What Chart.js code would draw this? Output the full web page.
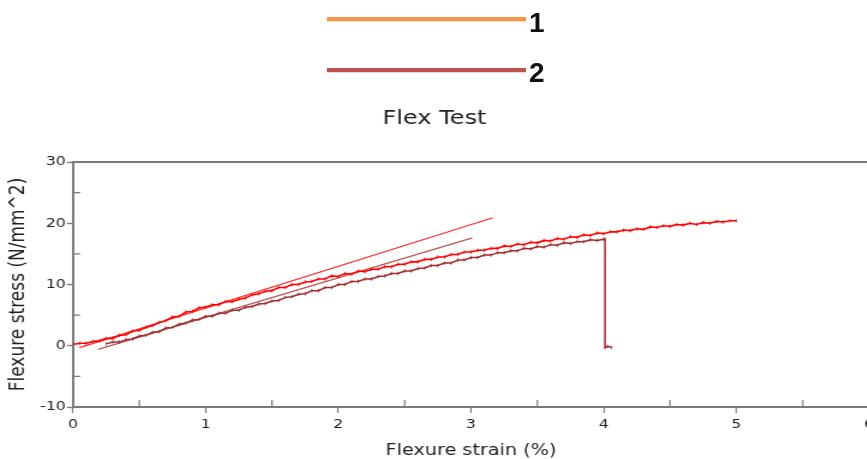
<!DOCTYPE html>
<html>
<head>
<meta charset="utf-8">
<script src="https://cdn.jsdelivr.net/npm/chart.js@4.4.0/dist/chart.umd.min.js"></script>
<style>
  html, body { margin: 0; padding: 0; background: #fff; overflow: hidden; width: 867px; height: 459px; }
  /* the source picture is stretched sideways, so the canvas is too */
  #wrap { position: absolute; left: 0; top: 0; width: 733px; height: 459px; transform: scaleX(1.2); transform-origin: 0 0; }
  .key { position: absolute; height: 4px; width: 199px; left: 327px; box-shadow: 0 1px 1px rgba(0,0,0,0.15); }
  .keytxt { position: absolute; left: 529px; font: bold 28px "Liberation Sans", Arial, sans-serif; line-height: 28px; color: #111; }
</style>
</head>
<body>
<div id="wrap">
  <canvas id="flexChart" width="733" height="459"></canvas>
</div>
<div class="key" style="top:17px;background:#F79646"></div>
<div class="keytxt" style="top:9px">1</div>
<div class="key" style="top:68px;background:#C0504D"></div>
<div class="keytxt" style="top:59px">2</div>
<script>
// specimen 1: strain 0 .. 5 %, one reading every 0.05 %
var strain1Start = 0, strainStep = 0.05;
var stress1 = [
  0.2, 0.4, 0.4, 0.7, 0.8, 1.2, 1.2, 1.7, 1.8, 2.4,
  2.5, 3.0, 3.3, 3.8, 4.1, 4.7, 4.8, 5.5, 5.6, 6.2,
  6.3, 6.7, 6.7, 7.2, 7.2, 7.6, 7.8, 8.3, 8.5, 8.9,
  9.0, 9.5, 9.5, 10.0, 10.0, 10.4, 10.5, 10.9, 10.9, 11.4,
  11.3, 11.8, 11.7, 12.2, 12.1, 12.5, 12.5, 12.9, 12.9, 13.3,
  13.3, 13.7, 13.7, 14.1, 14.1, 14.5, 14.5, 14.9, 14.9, 15.3,
  15.3, 15.6, 15.6, 15.9, 15.9, 16.3, 16.2, 16.6, 16.5, 16.9,
  16.8, 17.2, 17.1, 17.5, 17.4, 17.8, 17.7, 18.1, 18.0, 18.4,
  18.3, 18.6, 18.6, 18.9, 18.8, 19.1, 19.0, 19.4, 19.3, 19.6,
  19.5, 19.8, 19.7, 20.0, 19.8, 20.1, 20.0, 20.3, 20.2, 20.4,
  20.4
];
// specimen 2: strain 0.25 .. 4 %, then breaks
var strain2Start = 0.25;
var stress2 = [
  0.3, 0.6, 0.6, 1.0, 1.1, 1.6, 1.7, 2.2, 2.3, 2.9,
  3.0, 3.5, 3.7, 4.2, 4.3, 4.8, 4.8, 5.3, 5.3, 5.8,
  5.8, 6.3, 6.4, 6.8, 6.9, 7.3, 7.4, 7.9, 8.0, 8.4,
  8.5, 9.0, 9.0, 9.5, 9.5, 10.0, 10.0, 10.5, 10.5, 10.9,
  10.9, 11.3, 11.4, 11.8, 11.8, 12.2, 12.2, 12.6, 12.7, 13.1,
  13.1, 13.5, 13.5, 14.0, 14.0, 14.4, 14.4, 14.8, 14.8, 15.2,
  15.2, 15.5, 15.5, 15.9, 15.8, 16.2, 16.1, 16.5, 16.4, 16.8,
  16.7, 17.0, 17.0, 17.3, 17.2, 17.4
];
var breakStrain = [4.01, 4.01, 4.03, 4.06];
var breakStress = [17.4, -0.3, -0.1, -0.3];
// modulus fit lines
var fit1Strain = [0.05, 3.165];
var fit1Stress = [-0.3, 20.9];
var fit2Strain = [0.19, 3.01];
var fit2Stress = [-0.6, 17.6];

var axisColor = '#7a7a7a';
var fontFam = '"DejaVu Sans", Verdana, sans-serif';

function pts(start, ys) {
  return ys.map(function (v, i) { return {x: +(start + i * strainStep).toFixed(2), y: v}; });
}
function pairs(xs, ys) {
  return xs.map(function (v, i) { return {x: v, y: ys[i]}; });
}

var curve2 = pts(strain2Start, stress2).concat(pairs(breakStrain, breakStress));

var frameTicks = {
  id: 'frameTicks',
  afterDraw: function (chart) {
    var ctx = chart.ctx, a = chart.chartArea, x = chart.scales.x, y = chart.scales.y;
    ctx.save();
    ctx.strokeStyle = axisColor;
    ctx.lineWidth = 2;
    ctx.beginPath();
    ctx.moveTo(a.left - 1, a.top);
    ctx.lineTo(a.right, a.top);
    ctx.stroke();
    ctx.lineWidth = 1.4;
    ctx.beginPath();
    y.ticks.forEach(function (t) {
      if (t.value % 10 !== 0) {
        var py = y.getPixelForValue(t.value);
        ctx.moveTo(a.left, py);
        ctx.lineTo(a.left + 6, py);
      }
    });
    ctx.stroke();
    ctx.lineWidth = 1.2;
    ctx.beginPath();
    x.ticks.forEach(function (t) {
      if (t.value % 1 !== 0) {
        var px = x.getPixelForValue(t.value);
        ctx.moveTo(px, a.bottom);
        ctx.lineTo(px, a.bottom - 7);
      }
    });
    ctx.stroke();
    ctx.restore();
  }
};

new Chart(document.getElementById('flexChart'), {
  type: 'scatter',
  data: {
    datasets: [{
      label: '1',
      data: pts(strain1Start, stress1),
      showLine: true,
      borderColor: '#ff0000',
      backgroundColor: '#ff0000',
      borderWidth: 1.6,
      pointStyle: 'line',
      rotation: 90,
      pointRadius: 1.8,
      pointBorderWidth: 0.8
    }, {
      label: '2',
      data: curve2,
      showLine: true,
      borderColor: '#9e2b2b',
      backgroundColor: '#9e2b2b',
      borderWidth: 1.5,
      pointStyle: 'line',
      rotation: 90,
      pointRadius: 1.8,
      pointBorderWidth: 0.8
    }, {
      label: 'fit 1',
      data: pairs(fit1Strain, fit1Stress),
      showLine: true,
      borderColor: '#ff2a2a',
      borderWidth: 1.2,
      pointRadius: 0
    }, {
      label: 'fit 2',
      data: pairs(fit2Strain, fit2Stress),
      showLine: true,
      borderColor: '#b65a5a',
      borderWidth: 1.4,
      pointRadius: 0
    }]
  },
  options: {
    responsive: false,
    animation: false,
    layout: { padding: { top: 107, right: 8.8, bottom: 0, left: 0 } },
    plugins: {
      legend: { display: false },
      tooltip: { enabled: false },
      title: {
        display: true,
        text: 'Flex Test',
        color: '#222',
        font: { family: fontFam, size: 20, weight: 'normal' },
        padding: { top: 0, bottom: 31 }
      }
    },
    scales: {
      x: {
        type: 'linear',
        min: 0,
        max: 6,
        afterFit: function (s) { s.height = 52; },
        border: { color: axisColor, width: 2 },
        grid: {
          drawOnChartArea: false,
          tickLength: 6,
          tickWidth: 1.2,
          tickColor: function (c) { return c.tick && c.tick.value % 1 === 0 ? axisColor : 'rgba(0,0,0,0)'; }
        },
        ticks: {
          stepSize: 0.5,
          padding: 4,
          color: '#222',
          font: { family: fontFam, size: 13 },
          maxRotation: 0,
          autoSkip: false,
          callback: function (v) { return v % 1 === 0 ? v : ''; }
        },
        title: {
          display: true,
          text: 'Flexure strain (%)',
          color: '#222',
          font: { family: fontFam, size: 16, lineHeight: 1 },
          padding: { top: 0, bottom: 0 }
        }
      },
      y: {
        min: -10,
        max: 30,
        afterFit: function (s) { s.width = 60.8; },
        border: { color: axisColor, width: 2 },
        grid: {
          drawOnChartArea: false,
          tickLength: 5,
          tickWidth: 1.4,
          tickColor: function (c) { return c.tick && c.tick.value % 10 === 0 ? axisColor : 'rgba(0,0,0,0)'; }
        },
        ticks: {
          stepSize: 5,
          padding: 1,
          color: '#222',
          font: { family: fontFam, size: 13 },
          autoSkip: false,
          callback: function (v) { return v % 10 === 0 ? v : ''; }
        },
        title: {
          display: true,
          text: 'Flexure stress (N/mm^2)',
          color: '#222',
          font: { family: fontFam, size: 17 },
          padding: { top: 5.3, bottom: 0 }
        }
      }
    }
  },
  plugins: [frameTicks]
});
</script>
</body>
</html>
